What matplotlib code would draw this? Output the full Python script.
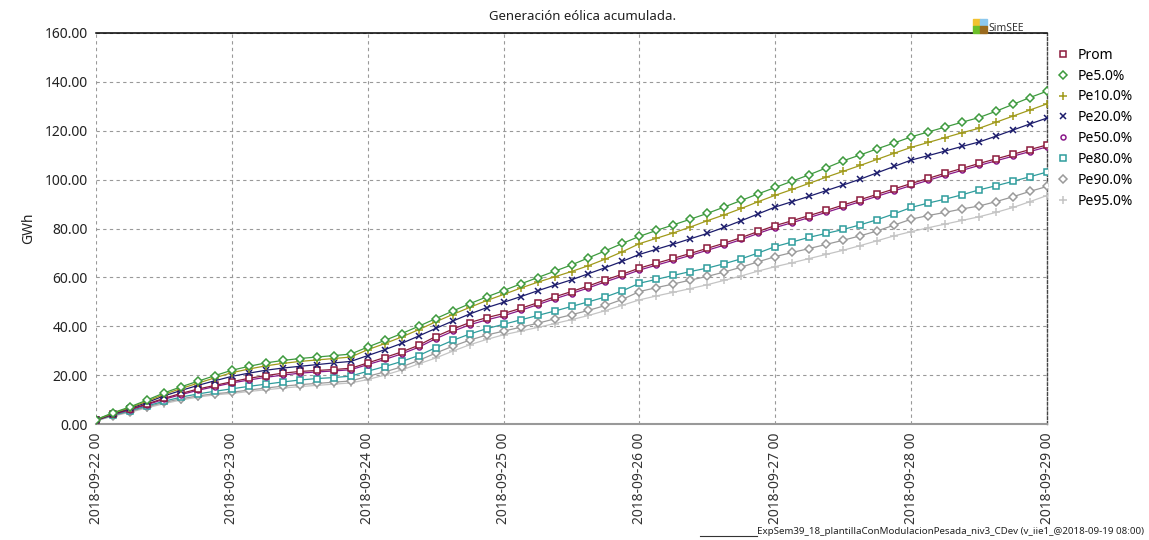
import matplotlib
matplotlib.use("Agg")
import matplotlib.pyplot as plt
import matplotlib.patches as mpatches
import pandas as pd

plt.rcParams['font.family'] = ['Noto Sans', 'DejaVu Sans']

title = "Generación eólica acumulada."
ylabel = "GWh"
footer = "ExpSem39_18_plantillaConModulacionPesada_niv3_CDev (v_iie1_@2018-09-19 08:00)"
start = "2018-09-22 00:00"
step = "3h"
tick_days = ["2018-09-22", "2018-09-23", "2018-09-24", "2018-09-25",
             "2018-09-26", "2018-09-27", "2018-09-28", "2018-09-29"]

prom = [1.5, 4.0, 6.0, 8.2, 10.5, 12.5, 14.3, 15.8, 17.3,
        18.7, 19.8, 20.8, 21.5, 21.9, 22.3, 22.8, 25.0,
        27.2, 29.5, 32.2, 35.8, 38.8, 41.5, 43.5, 45.2,
        47.3, 49.6, 52.0, 54.2, 56.5, 59.0, 61.3, 63.8,
        65.8, 67.8, 69.8, 71.9, 74.0, 76.3, 78.8, 81.2,
        83.2, 85.3, 87.4, 89.6, 91.8, 94.0, 96.2, 98.4,
        100.5, 102.6, 104.6, 106.6, 108.5, 110.4, 112.3, 114.2]
pe5 = [1.8, 4.6, 7.0, 9.8, 12.7, 15.2, 17.5, 19.8, 22.0,
       23.6, 25.0, 26.0, 26.8, 27.4, 28.0, 28.6, 31.5,
       34.2, 37.0, 40.0, 43.1, 46.2, 49.2, 52.0, 54.6,
       57.3, 59.9, 62.5, 65.1, 68.0, 70.9, 73.9, 76.8,
       79.2, 81.5, 83.8, 86.2, 88.8, 91.5, 94.2, 96.8,
       99.4, 102.0, 104.8, 107.7, 110.1, 112.6, 115.0, 117.5,
       119.5, 121.5, 123.5, 125.4, 128.0, 130.8, 133.6, 136.2]
pe10 = [1.7, 4.4, 6.7, 9.3, 12.1, 14.5, 16.7, 18.9, 21.0,
        22.5, 23.8, 24.8, 25.6, 26.2, 26.8, 27.4, 30.4,
        32.9, 35.6, 38.6, 41.8, 44.8, 47.7, 50.5, 53.0,
        55.6, 58.0, 60.2, 62.4, 64.8, 67.5, 70.5, 73.8,
        76.0, 78.2, 80.6, 83.2, 85.6, 88.2, 91.0, 93.6,
        96.0, 98.5, 101.0, 103.4, 105.8, 108.3, 110.8, 113.2,
        115.2, 117.2, 119.2, 121.0, 123.5, 126.0, 128.5, 131.0]
pe20 = [1.6, 4.2, 6.4, 8.8, 11.5, 13.7, 15.8, 17.7, 19.5,
        20.8, 22.0, 22.9, 23.6, 24.3, 25.0, 25.6, 28.0,
        30.4, 33.0, 36.0, 39.1, 42.1, 45.0, 47.6, 49.8,
        52.1, 54.5, 56.8, 59.0, 61.5, 64.0, 66.6, 69.4,
        71.5, 73.6, 75.8, 78.0, 80.5, 83.2, 86.0, 88.8,
        91.0, 93.2, 95.5, 97.8, 100.2, 102.8, 105.4, 108.0,
        109.8, 111.7, 113.6, 115.4, 117.8, 120.3, 122.8, 125.2]
pe50 = [1.5, 3.9, 5.8, 7.9, 10.1, 12.0, 13.8, 15.3, 16.8,
        18.0, 19.1, 20.0, 20.8, 21.3, 21.7, 22.2, 24.3,
        26.4, 28.7, 31.4, 34.9, 37.9, 40.6, 42.6, 44.3,
        46.5, 48.8, 51.2, 53.4, 55.7, 58.2, 60.5, 63.0,
        65.0, 67.0, 69.0, 71.1, 73.2, 75.5, 78.0, 80.4,
        82.4, 84.5, 86.6, 88.8, 91.0, 93.2, 95.4, 97.6,
        99.7, 101.8, 103.8, 105.8, 107.7, 109.6, 111.5, 113.4]
pe80 = [1.5, 3.6, 5.4, 7.4, 9.3, 11.0, 12.3, 13.4, 14.4,
        15.4, 16.3, 17.2, 18.0, 18.6, 19.0, 19.6, 21.6,
        23.5, 25.6, 28.0, 31.2, 34.2, 36.8, 39.0, 40.8,
        42.6, 44.4, 46.2, 48.1, 50.0, 52.0, 54.5, 57.6,
        59.2, 60.8, 62.4, 63.8, 65.6, 67.6, 70.0, 72.6,
        74.5, 76.4, 78.0, 79.6, 81.5, 83.6, 86.0, 88.6,
        90.4, 92.0, 93.8, 95.8, 97.5, 99.3, 101.2, 103.1]
pe90 = [1.4, 3.4, 5.1, 7.0, 8.8, 10.3, 11.5, 12.4, 13.0,
        13.9, 14.7, 15.5, 16.1, 16.6, 17.1, 17.6, 19.5,
        21.3, 23.4, 26.0, 29.0, 31.8, 34.3, 36.4, 38.0,
        39.6, 41.2, 43.0, 44.7, 46.5, 48.5, 51.0, 54.2,
        55.8, 57.3, 58.9, 60.4, 62.2, 64.2, 66.4, 68.5,
        70.2, 71.8, 73.5, 75.2, 77.0, 79.0, 81.4, 83.8,
        85.3, 86.6, 88.0, 89.2, 91.0, 93.0, 95.2, 97.2]
pe95 = [1.3, 3.2, 4.8, 6.6, 8.3, 9.8, 11.0, 11.9, 12.5,
        13.3, 14.0, 14.7, 15.3, 15.8, 16.3, 16.8, 18.2,
        20.0, 22.1, 24.6, 27.0, 29.8, 32.4, 34.6, 36.5,
        38.0, 39.5, 41.1, 42.7, 44.4, 46.4, 48.6, 50.8,
        52.4, 53.9, 55.4, 57.0, 58.8, 60.6, 62.6, 64.4,
        66.0, 67.7, 69.4, 71.1, 73.0, 75.0, 77.0, 78.7,
        80.3, 81.8, 83.3, 84.8, 86.6, 88.6, 91.0, 93.5]

names = ["Prom", "Pe5.0%", "Pe10.0%", "Pe20.0%", "Pe50.0%", "Pe80.0%", "Pe90.0%", "Pe95.0%"]
series = [prom, pe5, pe10, pe20, pe50, pe80, pe90, pe95]
colors = ["#8B1A3C", "#3E9A3E", "#A09A1A", "#1C1C6C", "#8A1A8A", "#2E9C9C", "#9A9A9A", "#C4C4C4"]
markers = ["s", "D", "+", "x", "o", "s", "D", "+"]
msizes = [4.0, 3.6, 5.5, 4.0, 3.6, 4.0, 3.6, 5.5]

times = pd.date_range(start, periods=len(prom), freq=step)

fig = plt.figure(figsize=(11.49, 5.40), dpi=100)
ax = fig.add_axes([96/1149, 1-424/540, (1047-96)/1149, (424-33)/540])

order = [7, 6, 5, 4, 0, 3, 2, 1]
handles = {}
for i in order:
    cross = markers[i] in ("+", "x")
    h, = ax.plot(times, series[i], color=colors[i], lw=0.9, marker=markers[i],
                 ms=msizes[i], mew=1.1,
                 mfc=colors[i] if cross else "white", mec=colors[i],
                 label=names[i], zorder=3)
    handles[i] = h

ax.set_ylim(0, 160)
ax.set_yticks(range(0, 161, 20))
ax.set_yticklabels([f"{v:.2f}" for v in range(0, 161, 20)], fontsize=10, color="#222222")
ax.set_xlim(pd.Timestamp(tick_days[0]), pd.Timestamp(tick_days[-1]))
ax.set_xticks([pd.Timestamp(d) for d in tick_days])
ax.set_xticklabels([d + " 00" for d in tick_days], rotation=90, fontsize=10, color="#333333")
ax.tick_params(axis="both", length=0, pad=6)
ax.grid(True, color="#999999", ls=(0, (3, 3)), lw=0.8)
ax.set_axisbelow(True)

ax.spines["top"].set_color("black")
ax.spines["top"].set_linewidth(1.1)
ax.spines["left"].set_visible(False)
ax.spines["bottom"].set_color("#999999")
ax.spines["bottom"].set_linewidth(1.5)
ax.spines["right"].set_color("#444444")
ax.spines["right"].set_linestyle((0, (2, 1.5)))
ax.spines["right"].set_linewidth(1.0)

ax.set_ylabel(ylabel, fontsize=10, color="#222222", labelpad=6)
fig.text(583/1149, 1-16/540, title, ha="center", va="center", fontsize=9.5, color="#222222")

leg = fig.legend([handles[i] for i in range(8)], names, loc="upper left",
                 bbox_to_anchor=(1053/1149, 1-45/540), frameon=False, fontsize=10,
                 handlelength=1.0, handletextpad=0.6, labelspacing=0.42, borderaxespad=0,
                 borderpad=0.2)
for line in leg.get_lines():
    line.set_linestyle("None")

# SimSEE logo
for (x0, y0, c) in [(973, 19, "#F2C230"), (980, 19, "#8CC8EE"), (973, 26, "#6CBF2A"), (980, 26, "#9A6A1E")]:
    fig.patches.append(mpatches.Rectangle((x0/1149, 1-(y0+6.5)/540), 6.5/1149, 6.5/540,
                                          transform=fig.transFigure, color=c, figure=fig))
fig.text(988/1149, 1-28.5/540, "SimSEE", ha="left", va="center", fontsize=7.5, color="#333333")

# footer
fig.add_artist(plt.Line2D([700/1149, 757/1149], [1-536/540, 1-536/540], color="#333333", lw=0.8,
                          transform=fig.transFigure))
fig.text(757/1149, 1-532/540, footer, ha="left", va="center", fontsize=7.0, color="#222222")

fig.savefig("out.png", dpi=100, facecolor="white")
